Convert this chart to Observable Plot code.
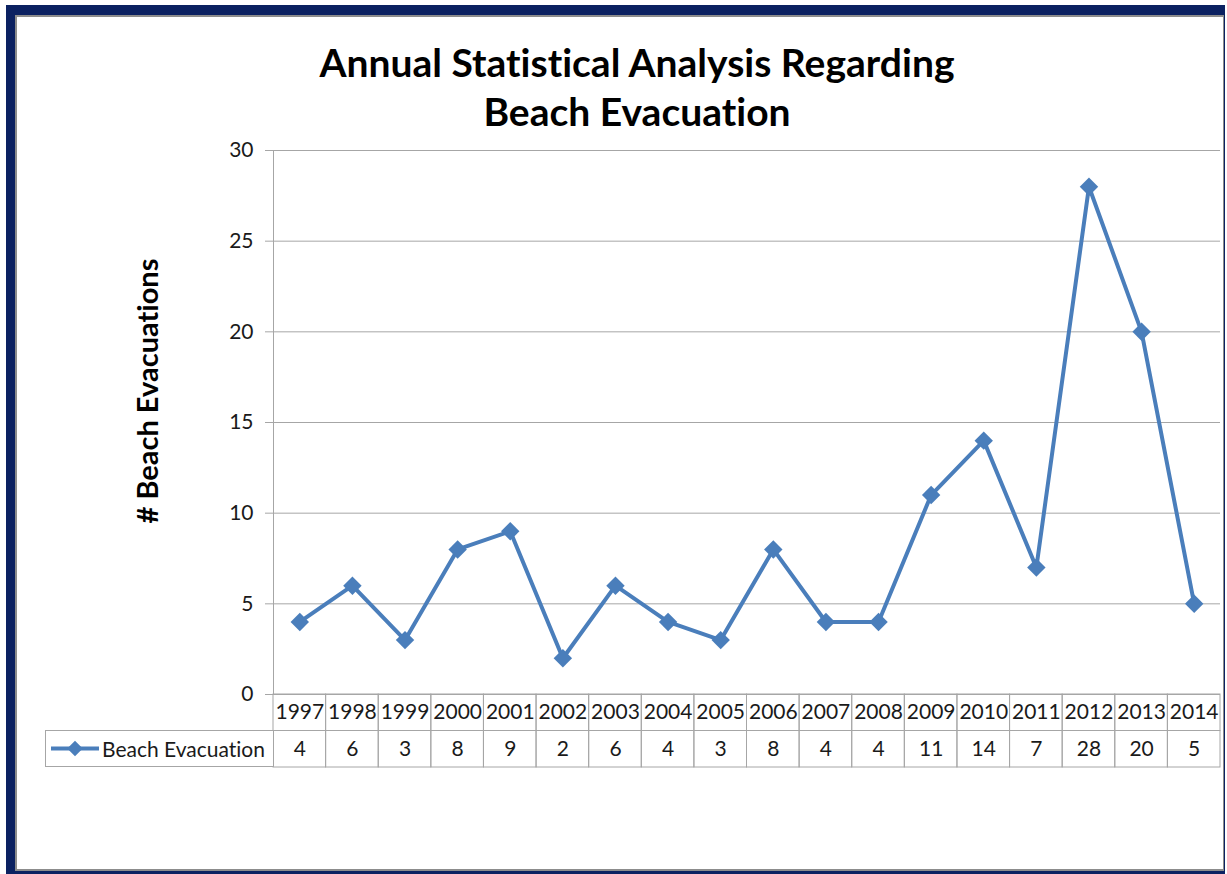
<!DOCTYPE html>
<html><head><meta charset="utf-8">
<script src="https://cdn.jsdelivr.net/npm/d3@7"></script>
<script src="https://cdn.jsdelivr.net/npm/@observablehq/plot@0.6"></script>
<style>
html,body{margin:0;padding:0;overflow:hidden;background:#fff;font-family:Lato,"Open Sans",sans-serif;font-variant-ligatures:none;}
#page{position:relative;width:1227px;height:874px;overflow:hidden;background:#fff;}
#navy{position:absolute;left:6px;top:5px;width:1219px;height:869px;background:#0b2161;}
#inner{position:absolute;left:15px;top:15px;width:1209px;height:856px;background:#fff;border:2px solid #8c8c8c;box-sizing:border-box;border-right-width:1px;}
.title{position:absolute;left:637px;transform:translateX(-50%);white-space:nowrap;font-weight:700;font-size:39px;line-height:48px;color:#000;font-variant-ligatures:none;}
#ylab{position:absolute;left:146px;top:391px;transform:translate(-50%,-50%) rotate(-90deg);white-space:nowrap;font-weight:700;font-size:29px;color:#000;font-variant-ligatures:none;}
#chart{position:absolute;left:0;top:0;width:1227px;}
#table{position:absolute;left:0;top:694px;width:1227px;}
#chart svg,#table svg{max-width:none !important;}
#legend{position:absolute;left:45px;top:730px;width:229px;height:37px;border:1px solid #a6a6a6;box-sizing:border-box;background:#fff;}
#legend span{position:absolute;left:56px;top:0;line-height:35px;font-size:21px;color:#1a1a1a;white-space:nowrap;}
#legend svg{position:absolute;left:4px;top:0;}
</style></head><body>
<div id="page">
  <div id="navy"></div>
  <div id="inner"></div>
  <div class="title" id="t1" style="top:38px"></div>
  <div class="title" id="t2" style="top:87px"></div>
  <div id="ylab"></div>
  <div id="chart"></div>
  <div id="table"></div>
  <div id="legend"><svg width="52" height="35"></svg><span></span></div>
</div>
<script>
const years = ["1997","1998","1999","2000","2001","2002","2003","2004","2005","2006","2007","2008","2009","2010","2011","2012","2013","2014"];
const evacuations = [4,6,3,8,9,2,6,4,3,8,4,4,11,14,7,28,20,5];
const yTicks = [0,5,10,15,20,25,30];
const seriesName = "Beach Evacuation";
const titleLines = ["Annual Statistical Analysis Regarding","Beach Evacuation"];
const yLabel = "# Beach Evacuations";

const lineColor = "#4a7ebb";
const gridColor = "#a6a6a6";
const textColor = "#1a1a1a";

document.getElementById("t1").textContent = titleLines[0];
document.getElementById("t2").textContent = titleLines[1];
document.getElementById("ylab").textContent = yLabel;
document.querySelector("#legend span").textContent = seriesName;

const data = years.map((year, i) => ({year, value: evacuations[i]}));

const chart = Plot.plot({
  width: 1227, height: 700,
  marginTop: 150, marginBottom: 6, marginLeft: 273, marginRight: 7,
  style: {fontFamily: "Lato, sans-serif", fontSize: "21px", background: "none", overflow: "visible", maxWidth: "none"},
  x: {type: "point", domain: years, padding: 0.5, align: 0.5, round: false, axis: null},
  y: {domain: [0, 30], label: null, axis: null},
  marks: [
    Plot.ruleY(yTicks, {stroke: gridColor}),
    Plot.axisY(yTicks, {tickSize: 8, tickPadding: 12, stroke: gridColor, fill: textColor, label: null, fontSize: 21}),
    Plot.frame({anchor: "left", stroke: gridColor}),
    Plot.line(data, {x: "year", y: "value", stroke: lineColor, strokeWidth: 4}),
    Plot.dot(data, {x: "year", y: "value", symbol: "diamond2", r: 8.3, fill: lineColor, stroke: "none"})
  ]
});
document.getElementById("chart").append(chart);

const rows = ["year", "value"];
const cells = years.flatMap((year, i) => [
  {year, row: "year", text: year},
  {year, row: "value", text: String(evacuations[i])}
]);
const table = Plot.plot({
  width: 1227, height: 73,
  marginTop: 0, marginBottom: 0, marginLeft: 273, marginRight: 7,
  style: {fontFamily: "Lato, sans-serif", fontSize: "21px", background: "none", overflow: "visible", maxWidth: "none"},
  x: {type: "band", domain: years, padding: 0, round: false, axis: null},
  y: {type: "band", domain: rows, padding: 0, round: false, axis: null},
  marks: [
    Plot.cell(cells, {x: "year", y: "row", fill: "none", stroke: gridColor}),
    Plot.text(cells, {x: "year", y: "row", text: "text", fontSize: 21, fill: textColor})
  ]
});
document.getElementById("table").append(table);

// legend swatch
const sw = d3.select("#legend svg");
sw.append("line").attr("x1", 1).attr("x2", 49).attr("y1", 17.5).attr("y2", 17.5)
  .attr("stroke", lineColor).attr("stroke-width", 4);
sw.append("path").attr("d", d3.symbol(d3.symbolDiamond2, Math.PI * 7 * 7)())
  .attr("transform", "translate(25,17.5)").attr("fill", lineColor);
</script>
</body></html>
